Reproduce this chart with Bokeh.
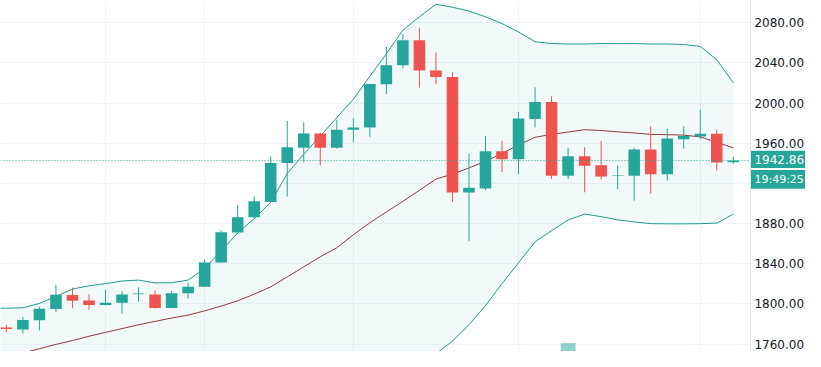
from bokeh.plotting import figure
from bokeh.models import Range1d, FixedTicker, Span, ColumnDataSource
from bokeh.core.properties import value
from bokeh.embed import file_html
from bokeh.resources import INLINE

# ---------------- data ----------------
candle_idx = list(range(45))
opens = [1776.5, 1774.6, 1783.8, 1794.9, 1808.9, 1803.4, 1799.1, 1801.2, 1809.8, 1809.5,
         1796.0, 1810.8, 1817.2, 1841.2, 1871.1, 1886.3, 1901.5, 1940.3, 1955.5, 1969.8,
         1955.5, 1973.6, 1975.8, 2018.7, 2037.7, 2062.5, 2032.4, 2026.0, 1911.1, 1914.9,
         1952.0, 1944.1, 1984.1, 2001.2, 1927.6, 1947.2, 1938.1, 1927.6, 1927.6, 1953.9,
         1929.2, 1964.1, 1966.7, 1969.5, 1941.2]
highs = [1779.3, 1787.2, 1797.4, 1819.1, 1816.5, 1809.5, 1814.3, 1812.7, 1816.5, 1813.6,
         1812.7, 1821.2, 1844.4, 1873.6, 1898.4, 1907.0, 1946.7, 1982.2, 1981.0, 1970.3,
         1983.2, 1984.8, 2019.3, 2056.2, 2068.9, 2075.2, 2050.5, 2030.8, 1949.8, 1967.2,
         1962.5, 1991.1, 2015.8, 2007.0, 1955.5, 1956.0, 1962.5, 1938.1, 1955.5, 1976.8,
         1974.6, 1976.8, 1993.6, 1973.6, 1946.7]
lows = [1771.7, 1770.5, 1773.6, 1791.7, 1795.8, 1794.3, 1798.8, 1790.5, 1802.2, 1795.5,
        1795.8, 1805.3, 1817.0, 1841.0, 1871.0, 1884.8, 1901.3, 1907.0, 1941.2, 1938.1,
        1954.6, 1961.0, 1966.3, 2009.2, 2034.6, 2015.5, 2019.1, 1901.5, 1862.5, 1913.3,
        1931.4, 1929.2, 1975.8, 1924.4, 1924.4, 1911.2, 1923.8, 1914.3, 1902.9, 1910.1,
        1922.9, 1954.6, 1964.1, 1933.0, 1939.6]
closes = [1775.1, 1784.1, 1795.2, 1809.2, 1803.2, 1799.1, 1801.2, 1809.5, 1810.5, 1796.0,
          1810.8, 1817.2, 1841.2, 1871.4, 1886.3, 1902.2, 1940.3, 1956.2, 1969.8, 1955.5,
          1973.6, 1975.8, 2019.1, 2037.7, 2062.5, 2032.4, 2026.0, 1911.1, 1915.8, 1952.0,
          1944.1, 1984.8, 2001.2, 1927.6, 1947.2, 1937.7, 1927.0, 1928.2, 1953.9, 1929.2,
          1964.8, 1967.2, 1969.5, 1941.0, 1942.86]

band_x = list(range(-1, 45))
bb_upper = [1795.8, 1795.8, 1796.2, 1800.6, 1807.6, 1814.9, 1818.1, 1820.3, 1822.9, 1823.8,
            1821.0, 1821.2, 1823.8, 1835.5, 1852.7, 1870.8, 1885.1, 1901.2, 1929.8, 1949.2,
            1967.2, 1985.7, 2003.8, 2026.7, 2049.2, 2072.7, 2086.0, 2098.4, 2095.5, 2091.7,
            2086.0, 2079.3, 2070.8, 2061.2, 2059.3, 2058.9, 2058.9, 2059.3, 2059.3, 2059.3,
            2058.9, 2058.9, 2058.4, 2056.5, 2043.2, 2020.3]
bb_basis = [1742.8, 1747.0, 1751.2, 1755.5, 1759.8, 1763.6, 1767.9, 1771.7, 1775.5, 1779.3,
            1782.7, 1786.0, 1788.9, 1793.2, 1797.9, 1803.2, 1809.8, 1817.0, 1827.0, 1837.0,
            1847.0, 1856.0, 1868.9, 1880.8, 1891.7, 1902.2, 1913.2, 1924.4, 1929.3, 1935.5,
            1942.2, 1949.8, 1958.4, 1966.0, 1968.9, 1971.2, 1973.6, 1972.7, 1971.4, 1970.3,
            1968.9, 1968.6, 1968.2, 1966.3, 1961.0, 1955.5]
bb_lower = [1690.0, 1698.2, 1706.2, 1710.4, 1712.0, 1712.3, 1717.7, 1723.1, 1728.1, 1734.0,
            1740.0, 1744.0, 1746.0, 1744.0, 1743.1, 1735.6, 1734.5, 1732.8, 1724.2, 1724.8,
            1726.8, 1726.3, 1734.0, 1734.9, 1734.2, 1731.7, 1740.4, 1750.4, 1763.1, 1779.3,
            1798.4, 1820.3, 1841.0, 1862.0, 1873.0, 1883.6, 1889.5, 1887.0, 1883.8, 1881.7,
            1880.0, 1879.8, 1879.8, 1880.0, 1880.6, 1889.5]

volume_idx = [34]
volume = [24]

price_ticks = [1760, 1800, 1840, 1880, 1920, 1960, 2000, 2040, 2080]
tick_labels = [f"{t:.2f}" for t in price_ticks]
time_grid_idx = [6, 12, 21, 31, 42]
last_price = 1942.86
countdown_text = "19:49:25"

UP = "#26a69a"
DOWN = "#ef5350"
BAND = "#22998e"
BASIS = "#8e3b3b"
FONT = "DejaVu Sans"

# layout of the chart (index units / price units)
X0, X1 = -0.356, 48.37          # visible index range
Y0, Y1 = 1752.7, 2102.2         # visible price range
AXIS_X = 45.04                  # left edge of the price scale
LABEL_X = 45.28                 # where the price scale texts start
BOX_H = 8.6                     # half height of the price tags (price units)
PRICE_TAG_Y = 1944.1
TIME_TAG_Y = 1924.1

colors = [UP if c >= o else DOWN for o, c in zip(opens, closes)]
src = ColumnDataSource(dict(
    x=candle_idx,
    top=[max(o, c) for o, c in zip(opens, closes)],
    bottom=[min(o, c) for o, c in zip(opens, closes)],
    high=highs, low=lows, color=colors,
))

p = figure(width=805, height=351, output_backend="svg", toolbar_location=None,
           x_range=Range1d(X0, X1), y_range=Range1d(Y0, Y1),
           x_axis_location=None, y_axis_location=None,
           min_border_left=0, min_border_right=0, min_border_top=0, min_border_bottom=0)
p.outline_line_color = None
p.background_fill_color = "white"
p.border_fill_color = "white"
p.extra_y_ranges = {"vol": Range1d(0, 1000)}

p.ygrid.ticker = FixedTicker(ticks=price_ticks)
p.ygrid.grid_line_color = "#f0f3fa"
p.xgrid.ticker = FixedTicker(ticks=time_grid_idx)
p.xgrid.grid_line_color = "#f0f3fa"

# Bollinger bands
p.varea(x=band_x, y1=bb_lower, y2=bb_upper, fill_color=UP, fill_alpha=0.06)
p.line(band_x, bb_upper, line_color=BAND, line_width=1)
p.line(band_x, bb_lower, line_color=BAND, line_width=1)
p.line(band_x, bb_basis, line_color=BASIS, line_width=1)

# volume
p.vbar(x=volume_idx, top=volume, bottom=0, width=0.9, fill_color=UP, fill_alpha=0.5,
       line_color=None, y_range_name="vol")

# candles
p.segment(x0="x", y0="high", x1="x", y1="low", line_color="color", line_width=1, source=src)
p.vbar(x="x", top="top", bottom="bottom", width=0.7, fill_color="color", line_color=None, source=src)

# last price line
p.segment(x0=[X0], y0=[last_price], x1=[AXIS_X], y1=[last_price],
          line_color=UP, line_dash="1 2", line_width=1)

# price scale
p.quad(left=[AXIS_X], right=[X1 + 1], bottom=[Y0 - 10], top=[Y1 + 10],
       fill_color="white", line_color=None)
p.add_layout(Span(location=AXIS_X, dimension="height", line_color="#e0e3eb", line_width=1))
p.text(x=[LABEL_X] * len(price_ticks), y=price_ticks, text=tick_labels,
       text_font=value(FONT), text_font_size=value("12px"), text_color="#131722",
       text_baseline="middle", text_align="left")

# price tags
p.quad(left=[AXIS_X, AXIS_X], right=[X1 + 1, X1 + 1],
       bottom=[PRICE_TAG_Y - BOX_H, TIME_TAG_Y - BOX_H - 0.8],
       top=[PRICE_TAG_Y + BOX_H, TIME_TAG_Y + BOX_H + 0.8],
       fill_color=UP, line_color=None)
p.text(x=[LABEL_X], y=[PRICE_TAG_Y], text=[f"{last_price:.2f}"],
       text_font=value(FONT), text_font_size=value("12px"), text_color="white",
       text_baseline="middle", text_align="left")
p.text(x=[LABEL_X], y=[TIME_TAG_Y], text=[countdown_text],
       text_font=value(FONT), text_font_size=value("11px"), text_color="white",
       text_baseline="middle", text_align="left")

open("out.html", "w").write(file_html(p, INLINE))
